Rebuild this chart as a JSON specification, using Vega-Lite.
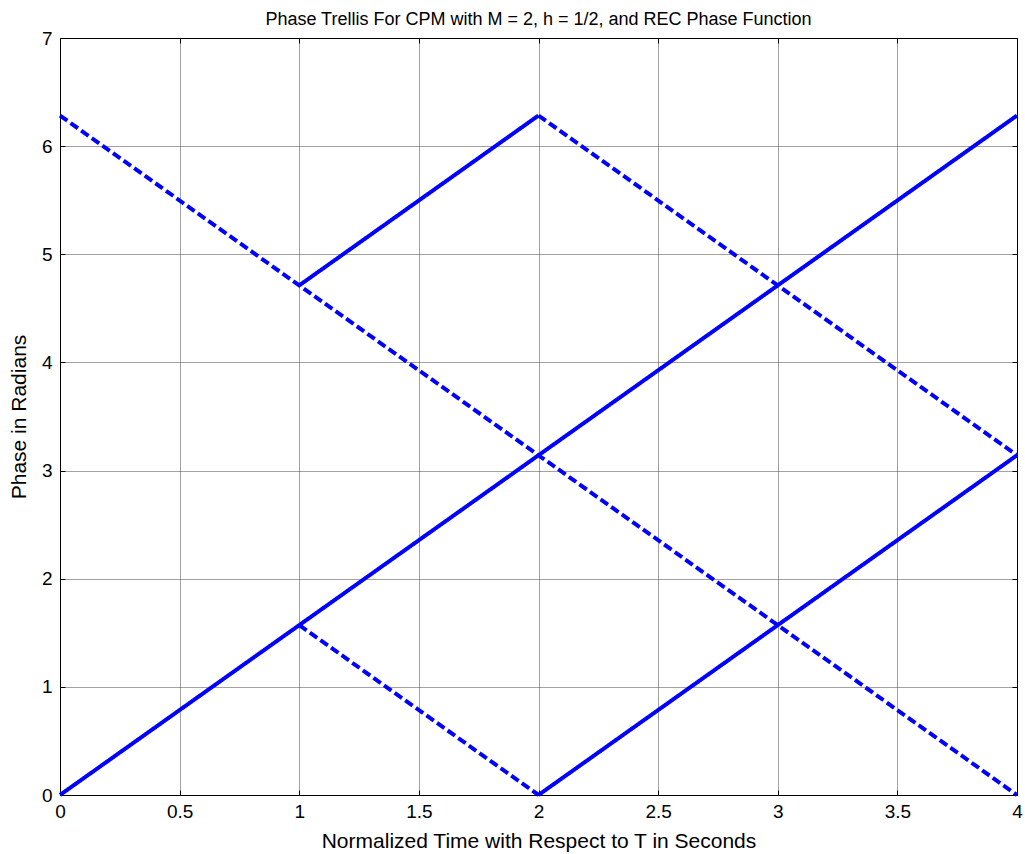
{
  "$schema": "https://vega.github.io/schema/vega-lite/v6.json",
  "autosize": "none",
  "width": 957,
  "height": 757,
  "padding": {"left": 60, "top": 38, "right": 8, "bottom": 59},
  "background": "white",
  "title": {"text": "Phase Trellis For CPM with M = 2, h = 1/2, and REC Phase Function", "font": "Liberation Sans", "fontSize": 18, "fontWeight": "normal", "color": "black", "anchor": "middle", "baseline": "alphabetic", "offset": -14},
  "config": {
    "view": {"stroke": null},
    "axis": {"labelFont": "Liberation Sans", "labelFontSize": 19, "labelColor": "black", "titleFont": "Liberation Sans", "titleFontSize": 21, "titleFontWeight": "normal", "titleColor": "black", "domainColor": "black", "tickColor": "black", "tickSize": -5, "gridColor": "#444", "gridDash": [1, 1], "gridOpacity": 1, "gridWidth": 1, "format": "~g"}
  },
  "data": {"values": [
    {"t": 0, "phase": 0, "seg": "s1", "style": "solid"},
    {"t": 1, "phase": 1.5708, "seg": "s1", "style": "solid"},
    {"t": 2, "phase": 3.1416, "seg": "s1", "style": "solid"},
    {"t": 3, "phase": 4.7124, "seg": "s1", "style": "solid"},
    {"t": 4, "phase": 6.2832, "seg": "s1", "style": "solid"},
    {"t": 1, "phase": 4.7124, "seg": "s2", "style": "solid"},
    {"t": 2, "phase": 6.2832, "seg": "s2", "style": "solid"},
    {"t": 2, "phase": 0, "seg": "s3", "style": "solid"},
    {"t": 3, "phase": 1.5708, "seg": "s3", "style": "solid"},
    {"t": 4, "phase": 3.1416, "seg": "s3", "style": "solid"},
    {"t": 0, "phase": 6.2832, "seg": "d1", "style": "dashed"},
    {"t": 1, "phase": 4.7124, "seg": "d1", "style": "dashed"},
    {"t": 2, "phase": 3.1416, "seg": "d1", "style": "dashed"},
    {"t": 3, "phase": 1.5708, "seg": "d1", "style": "dashed"},
    {"t": 4, "phase": 0, "seg": "d1", "style": "dashed"},
    {"t": 1, "phase": 1.5708, "seg": "d2", "style": "dashed"},
    {"t": 2, "phase": 0, "seg": "d2", "style": "dashed"},
    {"t": 2, "phase": 6.2832, "seg": "d3", "style": "dashed"},
    {"t": 3, "phase": 4.7124, "seg": "d3", "style": "dashed"},
    {"t": 4, "phase": 3.1416, "seg": "d3", "style": "dashed"}
  ]},
  "layer": [
    {
      "mark": {"type": "line", "color": "#0000ff", "strokeWidth": 4, "clip": false},
      "encoding": {
        "x": {"field": "t", "type": "quantitative", "scale": {"domain": [0, 4], "nice": false}, "axis": {"orient": "bottom", "values": [0, 0.5, 1, 1.5, 2, 2.5, 3, 3.5, 4], "grid": true, "title": "Normalized Time with Respect to T in Seconds", "labelPadding": 12, "titlePadding": 9, "labelFlush": false}},
        "y": {"field": "phase", "type": "quantitative", "scale": {"domain": [0, 7], "nice": false}, "axis": {"orient": "left", "values": [0, 1, 2, 3, 4, 5, 6, 7], "grid": true, "title": "Phase in Radians", "labelPadding": 13, "titlePadding": 12, "labelFlush": false}},
        "detail": {"field": "seg"},
        "strokeDash": {"field": "style", "type": "nominal", "scale": {"domain": ["solid", "dashed"], "range": [[1, 0], [9, 4]]}, "legend": null},
        "order": {"field": "t"}
      }
    },
    {
      "mark": {"type": "line", "opacity": 0},
      "encoding": {
        "x": {"field": "t", "type": "quantitative", "scale": {"domain": [0, 4], "nice": false}, "axis": {"orient": "top", "values": [0, 0.5, 1, 1.5, 2, 2.5, 3, 3.5, 4], "labels": false, "title": null, "grid": false}},
        "y": {"field": "phase", "type": "quantitative", "scale": {"domain": [0, 7], "nice": false}, "axis": {"orient": "right", "values": [0, 1, 2, 3, 4, 5, 6, 7], "labels": false, "title": null, "grid": false}},
        "detail": {"field": "seg"}
      }
    }
  ],
  "resolve": {"axis": {"x": "independent", "y": "independent"}}
}
